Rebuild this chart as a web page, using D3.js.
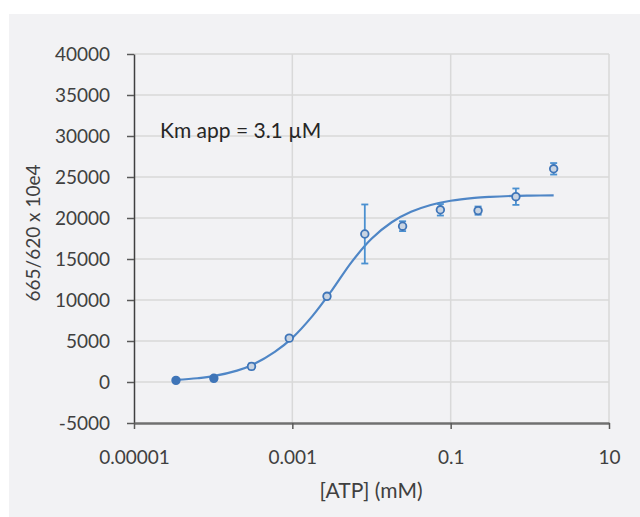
<!DOCTYPE html>
<html>
<head>
<meta charset="utf-8">
<script src="https://cdn.jsdelivr.net/npm/d3@7/dist/d3.min.js"></script>
<style>
html,body{margin:0;padding:0;background:#fff;}
svg{display:block;}
text{font-family:Lato,"Open Sans",sans-serif;}
</style>
</head>
<body>
<svg id="chart" width="640" height="517"></svg>
<script>
// Data
const atp = [0.0000339, 0.000102, 0.000305, 0.000914, 0.00274, 0.00823, 0.0247, 0.0741, 0.222, 0.667, 2.0];
const signal = [200, 450, 1900, 5350, 10450, 18050, 19000, 21000, 20900, 22600, 26000];
const errors = [150, 150, 350, 250, 250, 3600, 600, 700, 500, 1000, 700];
const fitX = [0.0000339, 0.0000631, 0.0001, 0.0002, 0.000316, 0.0006, 0.001, 0.0018, 0.00316, 0.0056, 0.01, 0.018, 0.0316, 0.056, 0.1, 0.2, 0.316, 0.6, 1.0, 2.0];
const fitY = [250, 460, 710, 1390, 2110, 3670, 5380, 8060, 11180, 14620, 17460, 19480, 20750, 21580, 22100, 22450, 22580, 22690, 22730, 22760];
const yTicks = [-5000, 0, 5000, 10000, 15000, 20000, 25000, 30000, 35000, 40000];
const xTicks = [0.00001, 0.001, 0.1, 10];
const xTickLabels = ["0.00001", "0.001", "0.1", "10"];
const annotation = "Km app = 3.1 µM";
const xTitle = "[ATP] (mM)";
const yTitle = "665/620 x 10e4";

const svg = d3.select("#chart");
svg.append("rect").attr("x", 9).attr("y", 14).attr("width", 631).attr("height", 503).attr("fill", "#f2f2f4");

const x = d3.scaleLog().domain([0.00001, 10]).range([134, 609]);
const y = d3.scaleLinear().domain([-5000, 40000]).range([423, 54]);

// gridlines
svg.append("g").selectAll("line").data(yTicks.filter(d => d !== -5000)).join("line")
  .attr("x1", x(0.00001)).attr("x2", x(10))
  .attr("y1", d => y(d)).attr("y2", d => y(d))
  .attr("stroke", "#d9d9d9").attr("stroke-width", 1.5);
svg.append("g").selectAll("line").data(xTicks.slice(1)).join("line")
  .attr("x1", d => x(d)).attr("x2", d => x(d))
  .attr("y1", y(40000)).attr("y2", y(-5000))
  .attr("stroke", "#d9d9d9").attr("stroke-width", 1.5);

// axes
const yAxis = d3.axisLeft(y).tickValues(yTicks).tickSize(7).tickSizeOuter(0).tickPadding(17).tickFormat(d => String(d));
const gy = svg.append("g").attr("transform", `translate(${x(0.00001)},0)`).call(yAxis);
gy.select(".domain").attr("stroke", "#404040").attr("stroke-width", 1.5);
gy.selectAll(".tick line").attr("stroke", "#595959").attr("stroke-width", 1.5);
gy.selectAll(".tick text").attr("font-size", 19).attr("fill", "#404040");

const xAxis = d3.axisBottom(x).tickValues(xTicks).tickSize(6).tickSizeOuter(0).tickPadding(22)
  .tickFormat((d, i) => xTickLabels[i]);
const gx = svg.append("g").attr("transform", `translate(0,${y(-5000)})`).call(xAxis);
gx.select(".domain").attr("stroke", "#707070").attr("stroke-width", 2.5);
gx.selectAll(".tick line").attr("stroke", "#595959").attr("stroke-width", 1.5);
gx.selectAll(".tick text").attr("font-size", 19).attr("fill", "#404040");

// fit curve
const line = d3.line().x((d, i) => x(fitX[i])).y(d => y(d)).curve(d3.curveCatmullRom);
svg.append("path").datum(fitY).attr("d", line).attr("fill", "none")
  .attr("stroke", "#4f86c6").attr("stroke-width", 2.2);

// error bars
const eb = svg.append("g").attr("stroke", "#4a90d0").attr("stroke-width", 1.8);
atp.forEach((a, i) => {
  const cx = x(a), top = y(signal[i] + errors[i]), bot = y(signal[i] - errors[i]);
  eb.append("line").attr("x1", cx).attr("x2", cx).attr("y1", top).attr("y2", bot);
  eb.append("line").attr("x1", cx - 3.5).attr("x2", cx + 3.5).attr("y1", top).attr("y2", top);
  eb.append("line").attr("x1", cx - 3.5).attr("x2", cx + 3.5).attr("y1", bot).attr("y2", bot);
});

// markers
svg.append("g").selectAll("circle").data(atp).join("circle")
  .attr("cx", d => x(d)).attr("cy", (d, i) => y(signal[i])).attr("r", 3.8)
  .attr("fill", (d, i) => i < 2 ? "#3f75b8" : "#c9d4e2")
  .attr("stroke", "#3f75b8").attr("stroke-width", 1.8);

// texts
svg.append("text").attr("x", 160).attr("y", 138).attr("font-size", 21).attr("fill", "#262626").text(annotation);
svg.append("text").attr("x", 371).attr("y", 498).attr("text-anchor", "middle").attr("font-size", 21).attr("fill", "#404040").text(xTitle);
svg.append("text").attr("transform", "translate(40,233) rotate(-90)").attr("text-anchor", "middle")
  .attr("font-size", 19).attr("fill", "#404040").text(yTitle);
</script>
</body>
</html>
